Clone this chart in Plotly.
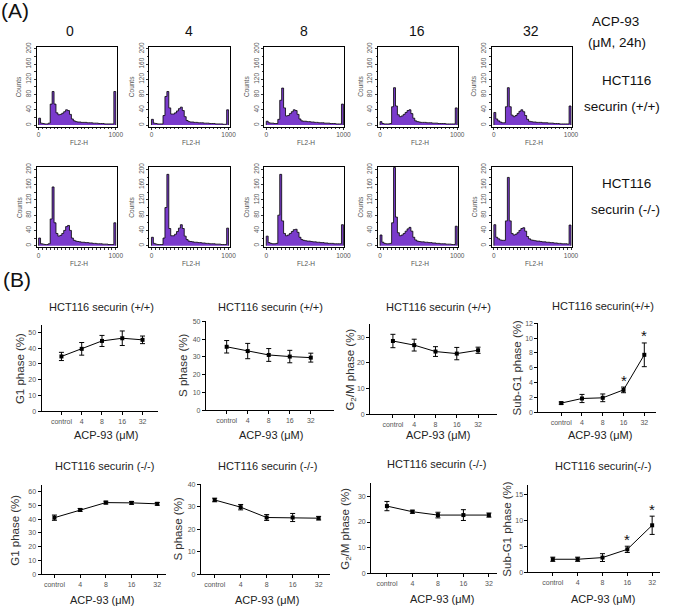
import plotly.graph_objects as go

W, H = 676, 613
FONT = "Liberation Sans, Arial, sans-serif"
PURPLE = "#7a3bcc"

# ---------------- data ----------------
doses = ["0", "4", "8", "16", "32"]
bin_edges = list(range(0, 1001, 25))

# flow-cytometry histograms (counts per 25-unit FL2-H bin), securin (+/+)
hist_pp_0 = [18, 5, 4, 3, 3, 5, 55, 88, 55, 32, 27, 28, 31, 35, 40, 38, 28, 16, 11, 9,
             8, 8, 7, 7, 7, 6, 6, 6, 5, 5, 5, 4, 4, 4, 3, 3, 3, 3, 3, 88]
hist_pp_4 = [15, 5, 4, 3, 3, 3, 25, 75, 88, 45, 29, 29, 32, 37, 43, 47, 38, 22, 12, 9,
             8, 8, 7, 7, 6, 6, 6, 5, 5, 5, 4, 4, 4, 3, 3, 3, 3, 2, 2, 40]
hist_pp_8 = [10, 6, 5, 5, 4, 4, 15, 65, 97, 45, 24, 25, 30, 35, 40, 38, 28, 16, 11, 10,
             10, 9, 9, 8, 8, 7, 7, 6, 6, 6, 5, 5, 5, 4, 4, 4, 3, 3, 3, 55]
hist_pp_16 = [9, 4, 3, 3, 3, 4, 48, 98, 50, 27, 22, 24, 28, 33, 38, 40, 30, 18, 11, 9,
              8, 7, 7, 7, 6, 6, 6, 5, 5, 5, 4, 4, 4, 4, 3, 3, 3, 3, 3, 45]
hist_pp_32 = [33, 16, 11, 8, 6, 6, 48, 98, 48, 26, 22, 25, 30, 36, 40, 35, 25, 15, 10, 9,
              8, 8, 7, 7, 7, 6, 6, 6, 5, 5, 5, 4, 4, 4, 3, 3, 3, 3, 3, 50]
# securin (-/-)
hist_mm_0 = [20, 5, 4, 3, 3, 5, 70, 154, 60, 32, 25, 27, 32, 40, 50, 53, 40, 20, 14, 12,
             11, 10, 9, 9, 8, 8, 7, 7, 6, 6, 5, 5, 5, 4, 4, 4, 3, 3, 3, 60]
hist_mm_4 = [22, 6, 4, 3, 3, 3, 20, 100, 187, 45, 26, 26, 30, 37, 46, 55, 45, 25, 16, 12,
             11, 10, 9, 9, 8, 8, 7, 7, 6, 6, 5, 5, 5, 4, 4, 4, 3, 3, 3, 46]
hist_mm_8 = [25, 8, 6, 5, 5, 6, 80, 187, 65, 32, 26, 28, 32, 37, 42, 43, 35, 22, 16, 14,
             13, 12, 12, 11, 10, 10, 9, 9, 8, 8, 7, 7, 6, 6, 6, 5, 5, 5, 5, 55]
hist_mm_16 = [28, 9, 6, 5, 5, 6, 60, 205, 75, 34, 26, 28, 32, 38, 44, 48, 38, 22, 15, 12,
              11, 10, 10, 9, 9, 8, 8, 7, 7, 6, 6, 5, 5, 5, 4, 4, 4, 3, 3, 51]
hist_mm_32 = [55, 22, 18, 15, 14, 14, 65, 179, 65, 32, 28, 30, 34, 40, 45, 47, 38, 24, 18, 15,
              14, 13, 12, 12, 11, 10, 10, 9, 9, 8, 8, 7, 7, 6, 6, 5, 5, 5, 4, 54]

hist_rows = [
    [hist_pp_0, hist_pp_4, hist_pp_8, hist_pp_16, hist_pp_32],
    [hist_mm_0, hist_mm_4, hist_mm_8, hist_mm_16, hist_mm_32],
]

conc_labels = ["control", "4", "8", "16", "32"]

g1_pp = [34.7, 39.5, 44.5, 46.2, 45.2]
g1_pp_err = [2.6, 4.0, 3.5, 4.6, 2.4]
s_pp = [35.7, 33.3, 31.1, 30.2, 29.6]
s_pp_err = [3.5, 4.3, 3.6, 3.5, 2.5]
g2m_pp = [28.5, 26.9, 24.4, 23.6, 24.9]
g2m_pp_err = [2.6, 2.3, 1.9, 2.4, 1.2]
subg1_pp = [1.24, 1.86, 1.95, 3.02, 7.75]
subg1_pp_err = [0.15, 0.55, 0.52, 0.38, 1.6]

g1_mm = [41.0, 46.6, 51.9, 51.7, 51.0]
g1_mm_err = [1.9, 1.0, 1.0, 1.0, 1.0]
s_mm = [33.1, 29.9, 25.3, 25.3, 25.0]
s_mm_err = [0.8, 1.2, 1.3, 1.8, 0.8]
g2m_mm = [26.2, 24.0, 22.7, 22.7, 22.7]
g2m_mm_err = [1.8, 0.6, 1.1, 2.1, 0.8]
subg1_mm = [2.53, 2.53, 2.85, 4.43, 9.05]
subg1_mm_err = [0.4, 0.4, 0.75, 0.6, 1.75]

significant = [False, False, False, True, True]

# ---------------- helpers ----------------
fig = go.Figure()
layout = {}
annotations = []


def dx(l, r):
    return [l / W, r / W]


def dy(t, b):
    return [1 - b / H, 1 - t / H]


def ann(text, px, py, size, color="#222", angle=0, xanchor="center", yanchor="middle"):
    annotations.append(dict(text=text, x=px / W, y=1 - py / H, xref="paper", yref="paper",
                            showarrow=False, textangle=angle, xanchor=xanchor, yanchor=yanchor,
                            font=dict(family=FONT, size=size, color=color)))


def axnames(n):
    return ("xaxis" if n == 1 else f"xaxis{n}", "yaxis" if n == 1 else f"yaxis{n}",
            "x" if n == 1 else f"x{n}", "y" if n == 1 else f"y{n}")


n = 0
# ---------------- histograms (A) ----------------
hist_lefts = [37, 151, 267, 382, 497]
hist_w = 81
hist_rows_px = [(43, 124), (165, 246)]
for r, row in enumerate(hist_rows):
    top, bot = hist_rows_px[r]
    for c, counts in enumerate(row):
        n += 1
        xa, ya, xr, yr = axnames(n)
        xs = [0] + bin_edges
        ys = [0] + counts + [0]
        fig.add_trace(go.Scatter(x=xs, y=ys, mode="lines", line_shape="hv", fill="tozeroy",
                                 fillcolor=PURPLE, line=dict(color="black", width=0.8),
                                 xaxis=xr, yaxis=yr, showlegend=False, hoverinfo="skip"))
        left = hist_lefts[c]
        layout[xa] = dict(domain=dx(left, left + hist_w), anchor=yr, range=[-26, 1013],
                          showline=True, mirror=True, linecolor="black", linewidth=1,
                          showgrid=False, zeroline=False, ticks="outside", ticklen=2,
                          tickcolor="#333", tickmode="array", tickvals=[0, 1000],
                          tickfont=dict(family=FONT, size=6.5, color="#555"),
                          minor=dict(tickmode="array", tickvals=list(range(0, 1001, 50)),
                                     ticks="outside", ticklen=1.5, tickcolor="#333"))
        layout[ya] = dict(domain=dy(top, bot), anchor=xr, range=[-4, 206],
                          showline=True, mirror=True, linecolor="black", linewidth=1,
                          showgrid=False, zeroline=False, ticks="outside", ticklen=2,
                          tickcolor="#333", tickmode="array", tickvals=list(range(0, 201, 40)),
                          tickangle=-90, tickfont=dict(family=FONT, size=6.5, color="#555"),
                          minor=dict(tickmode="array", tickvals=list(range(0, 201, 20)),
                                     ticks="outside", ticklen=1.5, tickcolor="#333"))
        ann("Counts", left - 18, (top + bot) / 2, 6.5, "#555", angle=-90)
        ann("FL2-H", left + hist_w / 2 + 2, bot + 16, 6.5, "#555")

# column / row labels
col_x = [71, 191, 307, 421, 537]
for d, x in zip(doses, col_x):
    ann(d, x, 27, 14, "#111")
ann("ACP-93", 622, 18, 13.5, "#111")
ann("(μM, 24h)", 623, 39, 13.5, "#111")
ann("HCT116", 633, 77, 13.5, "#111")
ann("securin (+/+)", 629, 104, 13.5, "#111")
ann("HCT116", 633, 182, 13.5, "#111")
ann("securin (-/-)", 632, 208, 13.5, "#111")
ann("(A)", 15, 7, 21, "#111")
ann("(B)", 17, 279, 21, "#111")

# ---------------- line charts (B) ----------------
panels = [
    (g1_pp, g1_pp_err, "G1 phase (%)", (42, 160, 325, 412), [-0.98, 4.78], [0, 54.4], 10,
     "HCT116 securin (+/+)", (103, 307), 20, (107, 436), None),
    (s_pp, s_pp_err, "S phase (%)", (208, 337, 321, 411), [-0.99, 5.08], [0, 50], 10,
     "HCT116 securin (+/+)", (273, 307), 185, (274, 436), None),
    (g2m_pp, g2m_pp_err, "G<sub>2</sub>/M phase (%)", (374, 502, 324, 415), [-1.07, 4.88], [0, 35], 10,
     "HCT116 securin (+/+)", (443, 307), 355, (443, 436), None),
    (subg1_pp, subg1_pp_err, "Sub-G1 phase (%)", (544, 663, 323, 413), [-1.1, 4.57], [0, 12], 2,
     "HCT116 securin(+/+)", (609, 305), 522, (606, 436), significant),
    (g1_mm, g1_mm_err, "G1 phase (%)", (42, 168, 487, 577), [-0.5, 4.35], [0, 64.3], 10,
     "HCT116 securin (-/-)", (106, 467), 15, (103, 603), None),
    (s_mm, s_mm_err, "S phase (%)", (203, 333, 486, 577), [-0.53, 4.42], [0, 40], 10,
     "HCT116 securin (-/-)", (270, 467), 180, (270, 603), None),
    (g2m_mm, g2m_mm_err, "G<sub>2</sub>/M phase (%)", (375, 502, 485, 576), [-0.62, 4.31], [0, 35], 10,
     "HCT116 securin (-/-)", (441, 465), 350, (447, 602), None),
    (subg1_mm, subg1_mm_err, "Sub-G1 phase (%)", (534, 667, 487, 575), [-0.98, 4.32], [0, 16.7], 5,
     "HCT116 securin(-/-)", (609, 467), 512, (609, 602), significant),
]

for (vals, errs, ytitle, box, xrng, yrng, dt, title, tpos, ytx, xtpos, sig) in panels:
    n += 1
    xa, ya, xr, yr = axnames(n)
    xs = list(range(len(conc_labels)))
    fig.add_trace(go.Scatter(x=xs, y=vals, mode="lines+markers",
                             line=dict(color="black", width=1),
                             marker=dict(symbol="square", size=4, color="black"),
                             error_y=dict(type="data", array=errs, color="black", thickness=1, width=2.5),
                             xaxis=xr, yaxis=yr, showlegend=False, cliponaxis=False))
    l, rgt, t, b = box
    layout[xa] = dict(domain=dx(l, rgt), anchor=yr, range=xrng, showline=True, linecolor="black",
                      linewidth=1, showgrid=False, zeroline=False, ticks="outside", ticklen=3,
                      tickcolor="black", tickmode="array", tickvals=xs, ticktext=conc_labels,
                      tickfont=dict(family=FONT, size=7, color="#555"))
    layout[ya] = dict(domain=dy(t, b), anchor=xr, range=yrng, showline=True, linecolor="black",
                      linewidth=1, showgrid=False, zeroline=False, ticks="outside", ticklen=3,
                      tickcolor="black", tickmode="linear", tick0=0, dtick=dt,
                      tickfont=dict(family=FONT, size=7, color="#555"))
    ann(title, tpos[0], tpos[1], 11, "#222")
    ann(ytitle, ytx, (t + b) / 2, 11.5, "#333", angle=-90)
    ann("ACP-93 (μM)", xtpos[0], xtpos[1], 11, "#222")
    if sig:
        for i, s in enumerate(sig):
            if s:
                annotations.append(dict(text="*", x=xs[i], y=vals[i] + errs[i], xref=xr, yref=yr,
                                        showarrow=False, yanchor="middle", yshift=7,
                                        font=dict(family=FONT, size=15, color="#111")))

fig.update_layout(width=W, height=H, margin=dict(l=0, r=0, t=0, b=0),
                  paper_bgcolor="white", plot_bgcolor="white",
                  font=dict(family=FONT), annotations=annotations, **layout)

fig.write_html("out.html")
